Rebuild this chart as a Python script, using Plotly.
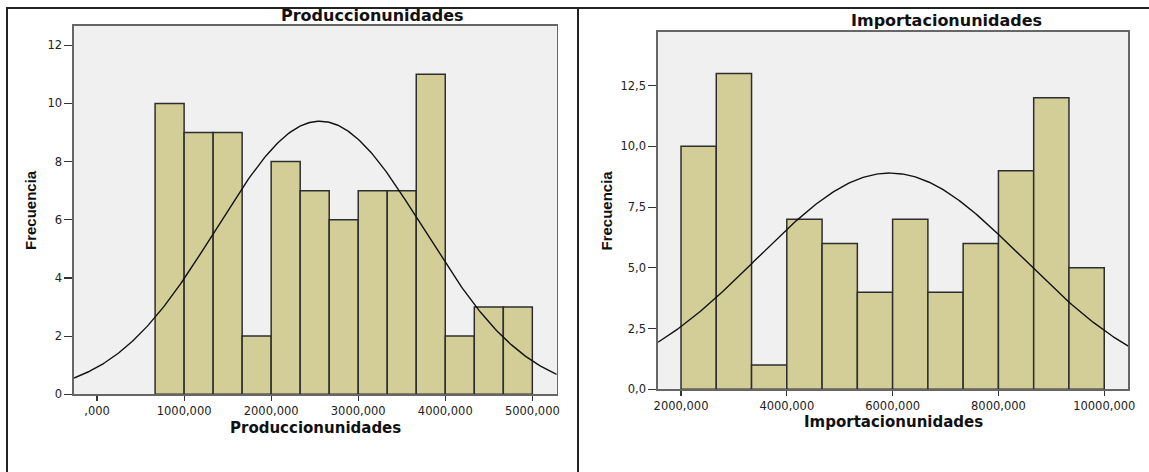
import numpy as np
import plotly.graph_objects as go

# ---------------- data ----------------
prod_edges = [666.67, 1000, 1333.33, 1666.67, 2000, 2333.33, 2666.67, 3000,
              3333.33, 3666.67, 4000, 4333.33, 4666.67, 5000]
prod_counts = [10, 9, 9, 2, 8, 7, 6, 7, 7, 11, 2, 3, 3]
prod_mean, prod_sd = 2560, 1190

imp_edges = [2000, 2666.67, 3333.33, 4000, 4666.67, 5333.33, 6000, 6666.67,
             7333.33, 8000, 8666.67, 9333.33, 10000]
imp_counts = [10, 13, 1, 7, 6, 4, 7, 4, 6, 9, 12, 5]
imp_mean, imp_sd = 5950, 2510

prod_xticks = [0, 1000, 2000, 3000, 4000, 5000]
prod_xtext = [",000", "1000,000", "2000,000", "3000,000", "4000,000", "5000,000"]
prod_yticks = [0, 2, 4, 6, 8, 10, 12]
prod_ytext = ["0", "2", "4", "6", "8", "10", "12"]

imp_xticks = [2000, 4000, 6000, 8000, 10000]
imp_xtext = ["2000,000", "4000,000", "6000,000", "8000,000", "10000,000"]
imp_yticks = [0, 2.5, 5, 7.5, 10, 12.5]
imp_ytext = ["0,0", "2,5", "5,0", "7,5", "10,0", "12,5"]

W, H = 1149, 472
BAR = "#d3ce97"
PLOTBG = "#f0f0f0"

def bars_from(edges, counts):
    e = np.array(edges, dtype=float)
    mids = (e[:-1] + e[1:]) / 2
    widths = e[1:] - e[:-1]
    return mids, widths

def normal_curve(edges, counts, mean, sd, xr):
    e = np.array(edges, dtype=float)
    n = sum(counts)
    w = float(np.mean(e[1:] - e[:-1]))
    xs = np.linspace(xr[0], xr[1], 300)
    ys = n * w / (sd * np.sqrt(2 * np.pi)) * np.exp(-0.5 * ((xs - mean) / sd) ** 2)
    return xs, ys

prod_xr = [-265, 5280]
imp_xr = [1565, 10455]

fig = go.Figure()

m, wd = bars_from(prod_edges, prod_counts)
fig.add_trace(go.Bar(x=m, y=prod_counts, width=wd, marker=dict(color=BAR, line=dict(color="#2e2e2e", width=1.5)),
                     xaxis="x", yaxis="y", showlegend=False))
cx, cy = normal_curve(prod_edges, prod_counts, prod_mean, prod_sd, prod_xr)
fig.add_trace(go.Scatter(x=cx, y=cy, mode="lines", line=dict(color="#111111", width=1.4),
                         xaxis="x", yaxis="y", showlegend=False))

m2, wd2 = bars_from(imp_edges, imp_counts)
fig.add_trace(go.Bar(x=m2, y=imp_counts, width=wd2, marker=dict(color=BAR, line=dict(color="#2e2e2e", width=1.5)),
                     xaxis="x2", yaxis="y2", showlegend=False))
cx2, cy2 = normal_curve(imp_edges, imp_counts, imp_mean, imp_sd, imp_xr)
fig.add_trace(go.Scatter(x=cx2, y=cy2, mode="lines", line=dict(color="#111111", width=1.4),
                         xaxis="x2", yaxis="y2", showlegend=False))

tickfont = dict(family="DejaVu Sans", size=11.5, color="#222222")
axis_common = dict(showline=True, mirror=True, linecolor="#666666", linewidth=1.6,
                   showgrid=False, zeroline=False, ticks="outside", tickcolor="#333333",
                   tickwidth=1.2, tickfont=tickfont, fixedrange=True, automargin=False)

fig.update_layout(
    width=W, height=H,
    margin=dict(l=0, r=0, t=0, b=0, autoexpand=False),
    paper_bgcolor="white",
    plot_bgcolor=PLOTBG,
    bargap=0,
    xaxis=dict(domain=[74 / W, 556.7 / W], range=prod_xr, tickvals=prod_xticks, ticktext=prod_xtext,
               ticklen=5, anchor="y", **axis_common),
    yaxis=dict(domain=[1 - 394.3 / H, 1 - 26 / H], range=[0, 12.66], tickvals=prod_yticks, ticktext=prod_ytext,
               ticklen=8, anchor="x", **axis_common),
    xaxis2=dict(domain=[658 / W, 1128.3 / W], range=imp_xr, tickvals=imp_xticks, ticktext=imp_xtext,
                ticklen=5, anchor="y2", **axis_common),
    yaxis2=dict(domain=[1 - 389.3 / H, 1 - 31.7 / H], range=[0, 14.72], tickvals=imp_yticks, ticktext=imp_ytext,
                ticklen=8, anchor="x2", **axis_common),
)

title_font = dict(family="DejaVu Sans", size=16, color="#111111")
xtitle_font = dict(family="DejaVu Sans", size=15, color="#111111")
ytitle_font = dict(family="Liberation Sans", size=15, color="#111111")

def ann(text, x, y, font, angle=0):
    fig.add_annotation(text="<b>%s</b>" % text, x=x / W, y=1 - y / H, xref="paper", yref="paper",
                       xanchor="center", yanchor="middle", showarrow=False, font=font, textangle=angle)

ann("Produccionunidades", 373, 15, title_font)
ann("Importacionunidades", 946, 21, title_font)
ann("Produccionunidades", 315, 428, xtitle_font)
ann("Importacionunidades", 893, 422, xtitle_font)
ann("Frecuencia", 31, 210, ytitle_font, -90)
ann("Frecuencia", 605.5, 211, ytitle_font, -90)

# outer frame lines (document table borders)
frame = dict(color="#222222", width=2)
fig.add_shape(type="line", xref="paper", yref="paper", x0=6 / W, x1=1, y0=1 - 8 / H, y1=1 - 8 / H, line=frame)
fig.add_shape(type="line", xref="paper", yref="paper", x0=7 / W, x1=7 / W, y0=0, y1=1 - 8 / H, line=frame)
fig.add_shape(type="line", xref="paper", yref="paper", x0=578 / W, x1=578 / W, y0=0, y1=1 - 8 / H, line=frame)

fig.write_html("out.html", config={"displayModeBar": False, "staticPlot": True},
               post_script="document.body.style.margin='0';document.body.style.overflow='hidden';")
